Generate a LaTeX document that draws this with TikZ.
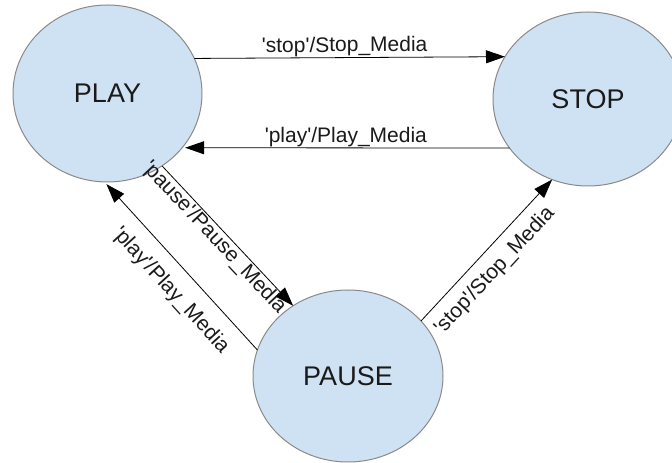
\documentclass[tikz,border=0pt]{standalone}
\usepackage{fontspec}
\setmainfont{Liberation Sans}
\usetikzlibrary{arrows.meta,shapes.geometric}
\definecolor{statefill}{HTML}{CFE2F3}
\definecolor{stateline}{HTML}{8A8A8A}
\definecolor{txt}{HTML}{1A1A1A}
\newcommand{\sq}{\textquotesingle}
\begin{document}
\begin{tikzpicture}[x=1pt,y=1pt,
  state/.style={ellipse, draw=stateline, line width=1pt, fill=statefill,
    inner sep=0pt, outer sep=0pt, text=txt, font=\fontsize{27}{32}\selectfont},
  trans/.style={draw=black, line width=0.8pt, -{Triangle[length=19pt,width=13pt]}},
  lbl/.style={sloped, font=\fontsize{21}{25}\selectfont, text=txt, inner sep=1pt}]
\useasboundingbox (0,0) rectangle (672,463);
\fill[white] (0,0) rectangle (672,463);
\node[state, minimum width=189pt, minimum height=177pt] (play) at (107.5,369.5) {PLAY};
\node[state, minimum width=190pt, minimum height=174pt] (stop) at (588,364) {STOP};
\node[state, minimum width=190pt, minimum height=172pt] (pause) at (348,87) {PAUSE};
\draw[trans] (play.22.3) -- node[lbl, above, pos=0.484] {\sq stop\sq/Stop\_Media} (stop.153.9);
\draw[trans, shorten >=3pt] (stop.212) -- node[lbl, above, pos=0.5] {\sq play\sq/Play\_Media} (play.-36.2);
\draw[trans] (play.-53.3) -- node[lbl, below, pos=0.46] {\sq pause\sq/Pause\_Media} (pause.128.5);
\draw[trans, shorten >=3pt] (pause.164.7) -- node[lbl, below=13pt, pos=0.45] {\sq play\sq/Play\_Media} (play.-92.7);
\draw[trans] (pause.37.7) -- node[lbl, below=9pt, pos=0.45] {\sq stop\sq/Stop\_Media} (stop.-114.9);
\end{tikzpicture}
\end{document}
